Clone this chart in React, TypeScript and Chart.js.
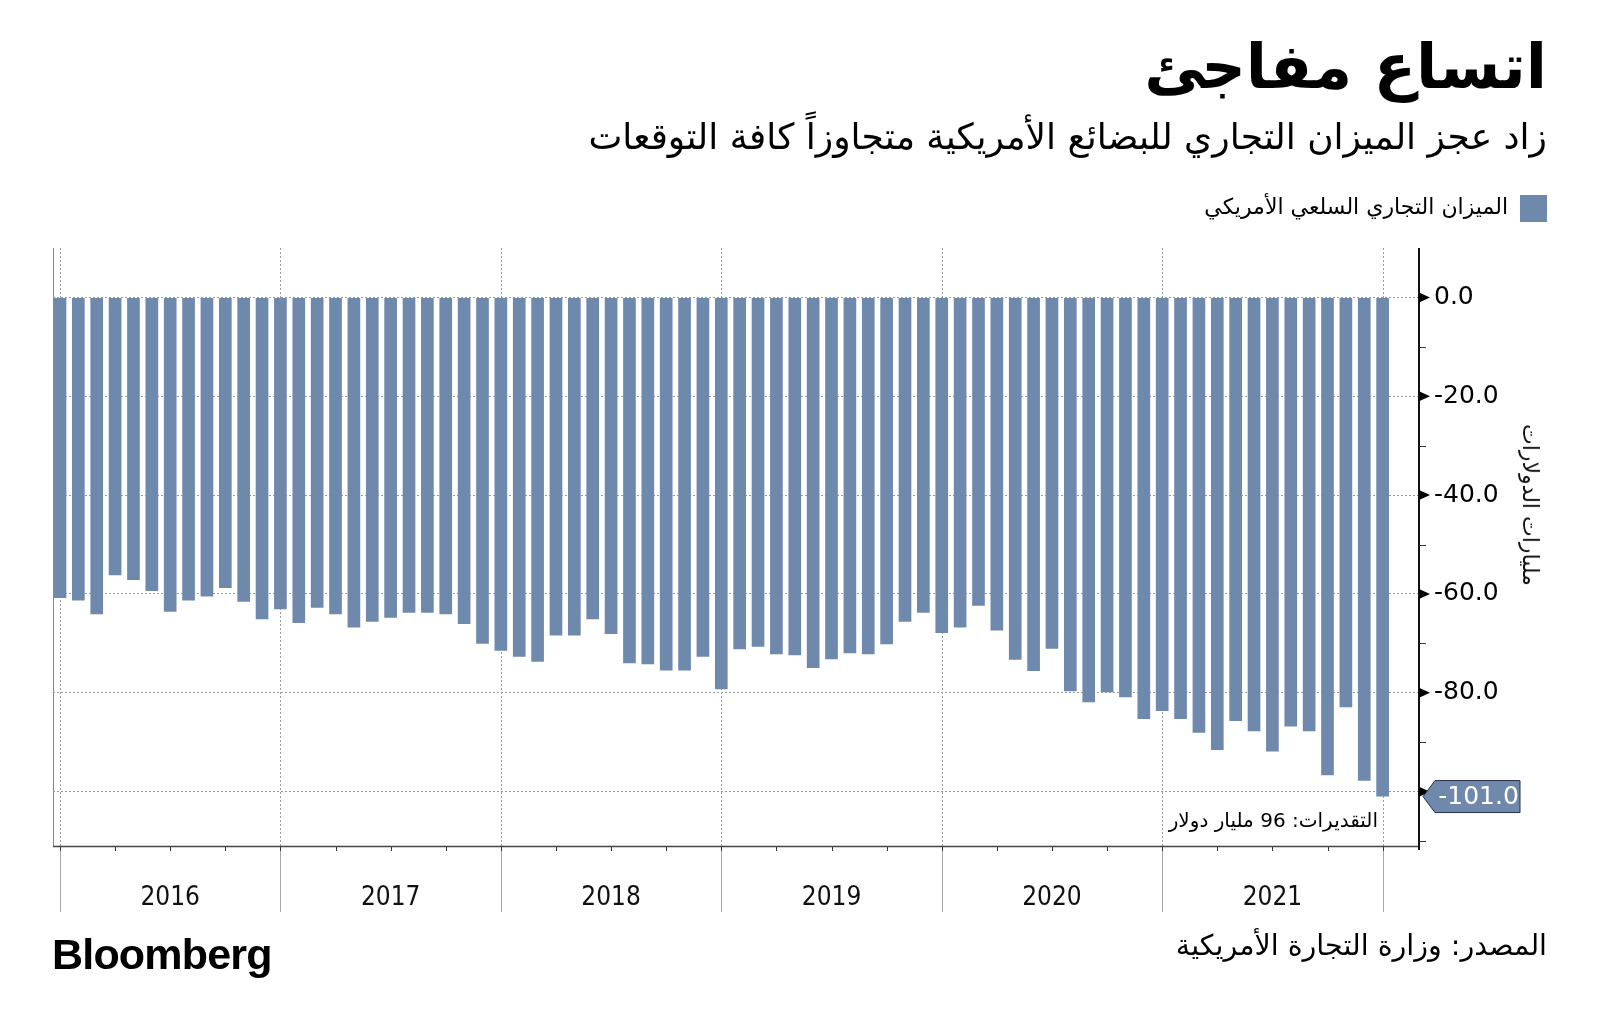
import React, { useEffect, useRef } from "react";
import { Chart, registerables } from "chart.js";

Chart.register(...registerables);

// Monthly US goods trade balance (plotted at period end), billions of dollars
const months: string[] = [
  "2015-12",
  "2016-01", "2016-02", "2016-03", "2016-04", "2016-05", "2016-06", "2016-07", "2016-08", "2016-09", "2016-10", "2016-11", "2016-12",
  "2017-01", "2017-02", "2017-03", "2017-04", "2017-05", "2017-06", "2017-07", "2017-08", "2017-09", "2017-10", "2017-11", "2017-12",
  "2018-01", "2018-02", "2018-03", "2018-04", "2018-05", "2018-06", "2018-07", "2018-08", "2018-09", "2018-10", "2018-11", "2018-12",
  "2019-01", "2019-02", "2019-03", "2019-04", "2019-05", "2019-06", "2019-07", "2019-08", "2019-09", "2019-10", "2019-11", "2019-12",
  "2020-01", "2020-02", "2020-03", "2020-04", "2020-05", "2020-06", "2020-07", "2020-08", "2020-09", "2020-10", "2020-11", "2020-12",
  "2021-01", "2021-02", "2021-03", "2021-04", "2021-05", "2021-06", "2021-07", "2021-08", "2021-09", "2021-10", "2021-11", "2021-12",
];

const balance: number[] = [
  -60.8,
  -61.3, -64.1, -56.2, -57.2, -59.4, -63.6, -61.3, -60.5, -58.8, -61.6, -65.1, -63.1,
  -65.9, -62.8, -64.1, -66.8, -65.6, -64.8, -63.8, -63.8, -64.1, -66.1, -70.1, -71.5,
  -72.7, -73.7, -68.4, -68.4, -65.1, -68.1, -74.0, -74.2, -75.5, -75.5, -72.7, -79.3,
  -71.2, -70.7, -72.2, -72.4, -75.0, -73.2, -72.0, -72.2, -70.2, -65.6, -63.8, -67.9,
  -66.8, -62.4, -67.4, -73.3, -75.6, -71.1, -79.7, -81.9, -79.9, -80.9, -85.3, -83.7,
  -85.3, -88.1, -91.6, -85.7, -87.8, -91.9, -86.8, -87.8, -96.7, -82.9, -97.8, -101.0,
];

const yearLabels: string[] = ["2016", "2017", "2018", "2019", "2020", "2021"];
const yMajorTicks: number[] = [0, -20, -40, -60, -80, -100];
const yMinorTicks: number[] = [-10, -30, -50, -70, -90, -110];

const TITLE = "اتساع مفاجئ";
const SUBTITLE = "زاد عجز الميزان التجاري للبضائع الأمريكية متجاوزاً كافة التوقعات";
const LEGEND = "الميزان التجاري السلعي الأمريكي";
const Y_TITLE = "مليارات الدولارات";
const NOTE = "التقديرات: 96 مليار دولار";
const SOURCE = "المصدر: وزارة التجارة الأمريكية";

const BAR = "#6F89AC";
const AR_FONT = "'DejaVu Sans', sans-serif";

// year boundary = December of previous year (period-end plotting)
const yearBoundaries = [...yearLabels.map((y) => `${Number(y) - 1}-12`), "2021-12"].map((m) => months.indexOf(m));
const yearCenters = yearLabels.map((_, k) => (yearBoundaries[k] + yearBoundaries[k + 1]) / 2);

const decor = {
  id: "decor",
  beforeDatasetsDraw(chart: any) {
    const { ctx, chartArea, scales } = chart;
    const { top, bottom } = chartArea;
    ctx.save();
    ctx.strokeStyle = "#9a9a9a";
    ctx.lineWidth = 1;
    ctx.setLineDash([2, 2]);
    yearBoundaries.forEach((i) => {
      const px = Math.round(scales.x.getPixelForValue(i)) + 0.5;
      ctx.beginPath();
      ctx.moveTo(px, top);
      ctx.lineTo(px, bottom);
      ctx.stroke();
    });
    ctx.restore();
  },
  afterDraw(chart: any) {
    const { ctx, chartArea, scales } = chart;
    const { left, right, top, bottom } = chartArea;
    const x = scales.x;
    const y = scales.y;
    ctx.save();
    ctx.setLineDash([]);
    // left border
    ctx.strokeStyle = "#8a8a8a";
    ctx.lineWidth = 1;
    ctx.beginPath();
    ctx.moveTo(left + 0.5, top);
    ctx.lineTo(left + 0.5, bottom);
    ctx.stroke();
    // year separators below axis
    ctx.strokeStyle = "#a8a8a8";
    yearBoundaries.forEach((i) => {
      const px = Math.round(x.getPixelForValue(i)) + 0.5;
      ctx.beginPath();
      ctx.moveTo(px, bottom);
      ctx.lineTo(px, bottom + 66);
      ctx.stroke();
    });
    // quarter ticks
    ctx.strokeStyle = "#333";
    ctx.lineWidth = 1;
    for (let i = yearBoundaries[0]; i <= yearBoundaries[yearBoundaries.length - 1]; i += 3) {
      const px = Math.round(x.getPixelForValue(i)) + 0.5;
      ctx.beginPath();
      ctx.moveTo(px, bottom);
      ctx.lineTo(px, bottom + 5);
      ctx.stroke();
    }
    // bottom axis line
    ctx.strokeStyle = "#444";
    ctx.lineWidth = 1.5;
    ctx.beginPath();
    ctx.moveTo(left, bottom + 0.5);
    ctx.lineTo(right, bottom + 0.5);
    ctx.stroke();
    // right axis line
    ctx.strokeStyle = "#111";
    ctx.lineWidth = 2;
    ctx.beginPath();
    ctx.moveTo(right, top);
    ctx.lineTo(right, bottom + 4);
    ctx.stroke();
    // minor ticks
    ctx.lineWidth = 1;
    ctx.strokeStyle = "#333";
    yMinorTicks.forEach((v) => {
      const py = Math.round(y.getPixelForValue(v)) + 0.5;
      ctx.beginPath();
      ctx.moveTo(right, py);
      ctx.lineTo(right + 7, py);
      ctx.stroke();
    });
    // major tick triangles
    ctx.fillStyle = "#000";
    yMajorTicks.forEach((v) => {
      const py = y.getPixelForValue(v);
      ctx.beginPath();
      ctx.moveTo(right, py - 5);
      ctx.lineTo(right + 11, py);
      ctx.lineTo(right, py + 5);
      ctx.closePath();
      ctx.fill();
    });
    // last value label
    const last = balance[balance.length - 1];
    const ly = y.getPixelForValue(last);
    const bx0 = right + 4;
    const bx1 = right + 16;
    const bx2 = right + 101;
    const h = 16;
    ctx.beginPath();
    ctx.moveTo(bx0, ly);
    ctx.lineTo(bx1, ly - h);
    ctx.lineTo(bx2, ly - h);
    ctx.lineTo(bx2, ly + h);
    ctx.lineTo(bx1, ly + h);
    ctx.closePath();
    ctx.fillStyle = BAR;
    ctx.fill();
    ctx.strokeStyle = "#22314d";
    ctx.lineWidth = 1;
    ctx.stroke();
    ctx.fillStyle = "#fff";
    ctx.font = "25px 'DejaVu Sans'";
    ctx.textAlign = "center";
    ctx.textBaseline = "middle";
    ctx.fillText(last.toFixed(1), (bx1 + bx2) / 2 + 1, ly + 1);
    ctx.restore();
  },
};

export default function App() {
  const canvasRef = useRef<HTMLCanvasElement | null>(null);

  useEffect(() => {
    const canvas = canvasRef.current;
    if (!canvas) return;
    const chart = new Chart(canvas, {
      type: "bar",
      data: {
        datasets: [
          {
            label: LEGEND,
            data: balance.map((v, i) => ({ x: i, y: v })) as any,
            backgroundColor: BAR,
            borderWidth: 0,
            barPercentage: 0.69,
            categoryPercentage: 1,
          },
        ],
      },
      options: {
        animation: false,
        responsive: false,
        maintainAspectRatio: false,
        layout: { padding: { left: 53, top: 248, right: 0, bottom: 0 } },
        plugins: { legend: { display: false }, tooltip: { enabled: false }, title: { display: false } },
        scales: {
          x: {
            type: "linear",
            offset: false,
            min: -0.38,
            max: 73.98,
            grid: { display: false, drawTicks: false },
            border: { display: false },
            afterBuildTicks: (s: any) => {
              s.ticks = yearCenters.map((v) => ({ value: v }));
            },
            afterFit: (s: any) => {
              s.height = 187;
            },
            ticks: {
              autoSkip: false,
              maxRotation: 0,
              padding: 37,
              color: "#111",
              font: { family: "'DejaVu Sans Condensed', 'Liberation Sans Narrow', 'DejaVu Sans'", size: 26 },
              callback: (_v: any, i: number) => yearLabels[i],
            },
          },
          y: {
            position: "right",
            min: -111,
            max: 10,
            afterBuildTicks: (s: any) => {
              s.ticks = yMajorTicks.map((v) => ({ value: v }));
            },
            afterFit: (s: any) => {
              s.width = 181;
            },
            grid: { color: "#9a9a9a", lineWidth: 1, drawTicks: false },
            border: { display: false, dash: [2, 2] },
            ticks: {
              padding: 15,
              color: "#000",
              font: { family: "'DejaVu Sans'", size: 25 },
              callback: (v: any) => (v === -100 ? "" : Number(v).toFixed(1)),
            },
          },
        },
      },
      plugins: [decor],
    });
    return () => chart.destroy();
  }, []);

  const text = (style: React.CSSProperties, content: string) => (
    <div
      dir="rtl"
      style={{
        position: "absolute",
        fontFamily: AR_FONT,
        lineHeight: 1,
        whiteSpace: "nowrap",
        color: "#000",
        ...style,
      }}
    >
      {content}
    </div>
  );

  return (
    <div
      style={{
        position: "absolute",
        left: 0,
        top: 0,
        width: 1600,
        height: 1033,
        background: "#fff",
        overflow: "hidden",
      }}
    >
      <canvas ref={canvasRef} width={1600} height={1033} style={{ position: "absolute", left: 0, top: 0, width: 1600, height: 1033 }} />
      {text({ right: 53, top: 36, fontSize: 62, fontWeight: 700 }, TITLE)}
      {text({ right: 53, top: 119, fontSize: 36 }, SUBTITLE)}
      <div style={{ position: "absolute", left: 1520, top: 195, width: 27, height: 27, background: BAR }} />
      {text({ right: 92, top: 196, fontSize: 22 }, LEGEND)}
      {text({ right: 222, top: 810, fontSize: 20 }, NOTE)}
      {text({ right: 53, top: 932, fontSize: 28.5 }, SOURCE)}
      <div
        dir="rtl"
        style={{
          position: "absolute",
          left: 1530,
          top: 505,
          fontFamily: AR_FONT,
          fontSize: 22,
          lineHeight: 1,
          whiteSpace: "nowrap",
          transform: "translate(-50%, -50%) rotate(90deg)",
          color: "#111",
        }}
      >
        {Y_TITLE}
      </div>
      <div
        style={{
          position: "absolute",
          left: 52,
          top: 933,
          fontFamily: "'Liberation Sans', Arial, sans-serif",
          fontWeight: 700,
          fontSize: 43,
          lineHeight: 1,
          letterSpacing: -0.8,
          color: "#000",
        }}
      >
        Bloomberg
      </div>
    </div>
  );
}
